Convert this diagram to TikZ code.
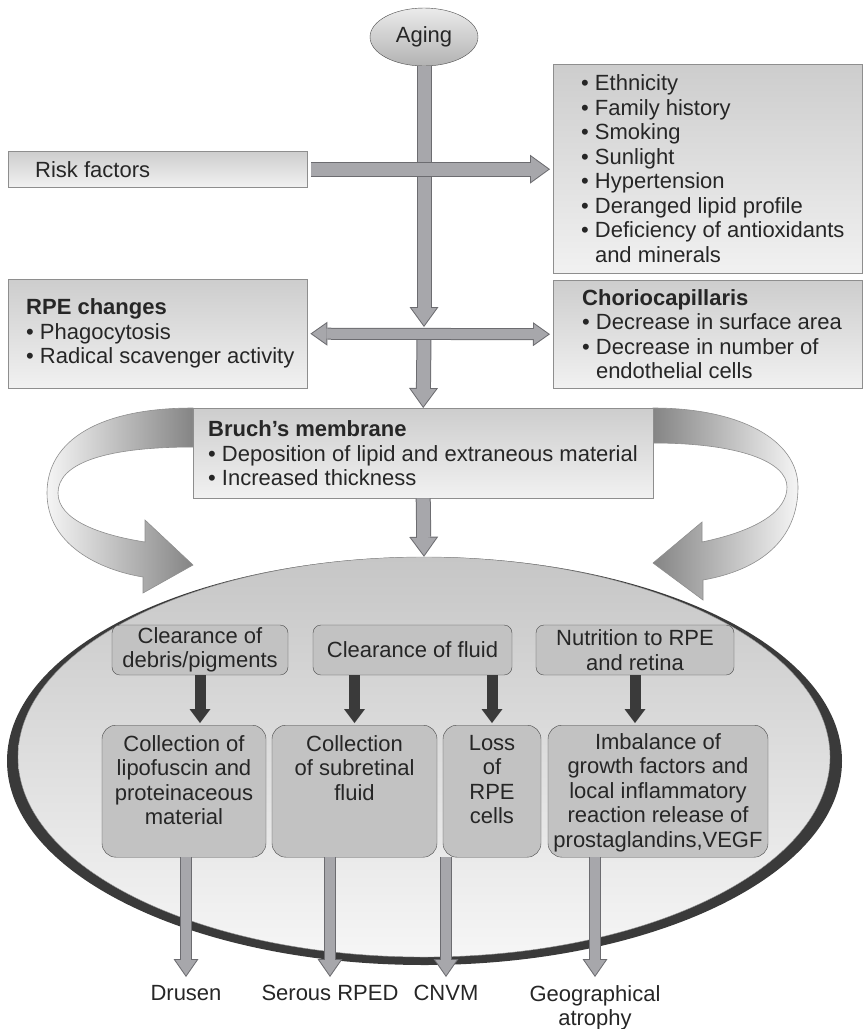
\documentclass[tikz,border=0pt]{standalone}
\usepackage{fontspec}
\setmainfont{Liberation Sans}
\usetikzlibrary{arrows.meta,shapes.geometric}

\definecolor{ink}{HTML}{262626}
\definecolor{edge}{HTML}{8E8E8E}
\definecolor{boxtop}{HTML}{CDCDCD}
\definecolor{boxbot}{HTML}{F1F1F1}
\definecolor{innerfill}{HTML}{C2C2C2}
\definecolor{inneredge}{HTML}{4A4A4A}
\definecolor{shaft}{HTML}{A7A7AB}
\definecolor{shaftedge}{HTML}{6C6C70}
\definecolor{darkarrow}{HTML}{3A3A3A}
\definecolor{eyetop}{HTML}{C6C6C6}
\definecolor{eyebot}{HTML}{F6F6F6}

\tikzset{
  every node/.style={font=\fontsize{22}{24.5}\selectfont, text=ink},
  panel/.style={draw=edge, top color=boxtop, bottom color=boxbot, inner sep=0pt, anchor=north west},
  txt/.style={align=left, anchor=west, inner sep=0pt},
  cbox/.style={draw=inneredge, fill=innerfill, rounded corners=8pt, minimum height=50pt, align=center, inner sep=0pt},
  rbox/.style={draw=inneredge, fill=innerfill, rounded corners=14pt, minimum height=132pt, anchor=north, inner sep=0pt},
  rtxt/.style={align=center, anchor=north, inner sep=0pt},
  outtxt/.style={align=center, anchor=north, inner sep=0pt},
  % fat grey arrows, drawn twice: rim then fill
  bigout/.style={line width=15pt, draw=shaftedge, -{Triangle[length=20pt,width=29pt,line width=0pt]}},
  bigin/.style={line width=13pt, draw=shaft, shorten >=1.7pt, -{Triangle[length=17.3pt,width=25.1pt,line width=0pt]}},
  smallout/.style={line width=12pt, draw=shaftedge, -{Triangle[length=18pt,width=25pt,line width=0pt]}},
  smallin/.style={line width=10pt, draw=shaft, shorten >=1.75pt, -{Triangle[length=15.25pt,width=21.2pt,line width=0pt]}},
  dblout/.style={line width=12pt, draw=shaftedge, {Triangle[length=17pt,width=24pt,line width=0pt]}-{Triangle[length=17pt,width=24pt,line width=0pt]}},
  dblin/.style={line width=10pt, draw=shaft, shorten >=1.75pt, shorten <=1.75pt, {Triangle[length=14.3pt,width=20.2pt,line width=0pt]}-{Triangle[length=14.3pt,width=20.2pt,line width=0pt]}},
  darrow/.style={line width=11pt, draw=darkarrow, shorten >=2pt, -{Triangle[length=14pt,width=21pt,line width=0pt]}},
  curl/.style={draw=edge, line width=0.6pt}
}

\newcommand{\fatbig}[2]{\draw[bigout] #1 -- #2; \draw[bigin] #1 -- #2;}
\newcommand{\fatsmall}[2]{\draw[smallout] #1 -- #2; \draw[smallin] #1 -- #2;}

\begin{document}
\begin{tikzpicture}[x=1pt, y=-1pt]
  \useasboundingbox (0,0) rectangle (865,1029);

  % Aging and risk factors
  \node[ellipse, draw=inneredge, top color=white!92!black, bottom color=black!30, minimum width=108pt, minimum height=58pt, inner sep=0pt] (aging) at (424,37) {Aging};
  \node[panel, minimum width=299pt, minimum height=36pt] (risk) at (8,151) {};
  \node[txt] (risktxt) at ([xshift=27pt]risk.west) {Risk factors};
  \node[panel, minimum width=309pt, minimum height=209pt] (factors) at (553,64) {};
  \node[txt] (factorstxt) at ([xshift=28pt]factors.west) {• Ethnicity\\• Family history\\• Smoking\\• Sunlight\\• Hypertension\\• Deranged lipid profile\\• Deficiency of antioxidants\\\phantom{•\ }and minerals};

  % RPE and choriocapillaris
  \node[panel, minimum width=299pt, minimum height=109pt] (rpe) at (8,279) {};
  \node[txt] (rpetxt) at ([xshift=18pt]rpe.west) {\textbf{RPE changes}\\• Phagocytosis\\• Radical scavenger activity};
  \node[panel, minimum width=309pt, minimum height=108pt] (chorio) at (553,280) {};
  \node[txt] (choriotxt) at ([xshift=29pt]chorio.west) {\textbf{Choriocapillaris}\\• Decrease in surface area\\• Decrease in number of\\\phantom{•\ }endothelial cells};

  % curved arrows round Bruch's membrane
  \draw[curl, left color=white!96!black, right color=black!48]
    (193,408) .. controls (100,408) and (47,440) .. (47,493)
    .. controls (47,545) and (100,570) .. (143,577)
    -- (143,593) -- (193,565) -- (145,520) -- (145,542)
    .. controls (100,535) and (58,520) .. (58,493)
    .. controls (58,465) and (100,447) .. (193,447) -- cycle;
  \draw[curl, left color=black!48, right color=white!96!black]
    (653,408) .. controls (740,408) and (798,440) .. (798,487)
    .. controls (798,540) and (760,570) .. (703,580)
    -- (703,600) -- (653,563) -- (702,522) -- (702,542)
    .. controls (760,530) and (787,510) .. (787,487)
    .. controls (787,462) and (740,443) .. (653,443) -- cycle;

  \node[panel, minimum width=460pt, minimum height=90pt] (bruch) at (193,408) {};
  \node[txt] (bruchtxt) at ([xshift=15pt]bruch.west) {\textbf{Bruch’s membrane}\\• Deposition of lipid and extraneous material\\• Increased thickness};

  % the eye
  \node[ellipse, fill=darkarrow, minimum width=835pt, minimum height=408pt, inner sep=0pt] (rim) at (424.5,761) {};
  \node[ellipse, draw=edge, top color=eyetop, bottom color=eyebot, minimum width=812pt, minimum height=400pt, inner sep=0pt] (eye) at (424,757) {};

  % trunk
  \coordinate (hit) at (424,327);
  \coordinate (below) at (424,338);
  \fatbig{(aging.south)}{(hit)}
  \fatbig{(below)}{(bruch.north)}
  \fatbig{(bruch.south)}{(eye.north)}
  \fatbig{([xshift=4pt]risk.east)}{([xshift=-3pt]factors.west |- risk.east)}
  \draw[dblout] ([xshift=3pt]rpe.east) -- ([xshift=-3pt]chorio.west);
  \draw[dblin] ([xshift=3pt]rpe.east) -- ([xshift=-3pt]chorio.west);

  % inside the eye
  \node[cbox, minimum width=176pt] (debris) at (200,650) {Clearance of\\debris/pigments};
  \node[cbox, minimum width=199pt] (fluid) at (412.5,650) {Clearance of fluid};
  \node[cbox, minimum width=198pt] (nutrition) at (635,650) {Nutrition to RPE\\and retina};

  \node[rbox, minimum width=164pt] (lipo) at (184,725) {};
  \node[rtxt] (lipotxt) at ([yshift=-10pt]lipo.north) {Collection of\\lipofuscin and\\proteinaceous\\material};
  \node[rbox, minimum width=165pt] (subret) at (354.5,725) {};
  \node[rtxt] (subrettxt) at ([yshift=-10pt]subret.north) {Collection\\of subretinal\\fluid};
  \node[rbox, minimum width=98pt] (loss) at (492,725) {};
  \node[rtxt] (losstxt) at ([yshift=-10pt]loss.north) {Loss\\of\\RPE\\cells};
  \node[rbox, minimum width=220pt] (imbal) at (658,725) {};
  \node[rtxt] (imbaltxt) at ([yshift=-8pt]imbal.north) {Imbalance of\\growth factors and\\local inflammatory\\reaction release of\\prostaglandins,VEGF};

  \draw[darrow] (debris.south) -- (debris.south |- lipo.north);
  \draw[darrow] (subret.north |- fluid.south) -- (subret.north);
  \draw[darrow] (loss.north |- fluid.south) -- (loss.north);
  \draw[darrow] (nutrition.south) -- (nutrition.south |- imbal.north);

  % outcomes
  \node[outtxt] (drusen) at (186,985) {Drusen};
  \node[outtxt] (serous) at (330,985) {Serous RPED};
  \node[outtxt] (cnvm) at (446,985) {CNVM};
  \node[outtxt] (geo) at (595,985) {Geographical\\atrophy};

  \fatsmall{(drusen.north |- lipo.south)}{([yshift=8pt]drusen.north)}
  \fatsmall{(serous.north |- subret.south)}{([yshift=8pt]serous.north)}
  \fatsmall{(cnvm.north |- loss.south)}{([yshift=8pt]cnvm.north)}
  \fatsmall{(geo.north |- imbal.south)}{([yshift=8pt]geo.north)}
\end{tikzpicture}
\end{document}
